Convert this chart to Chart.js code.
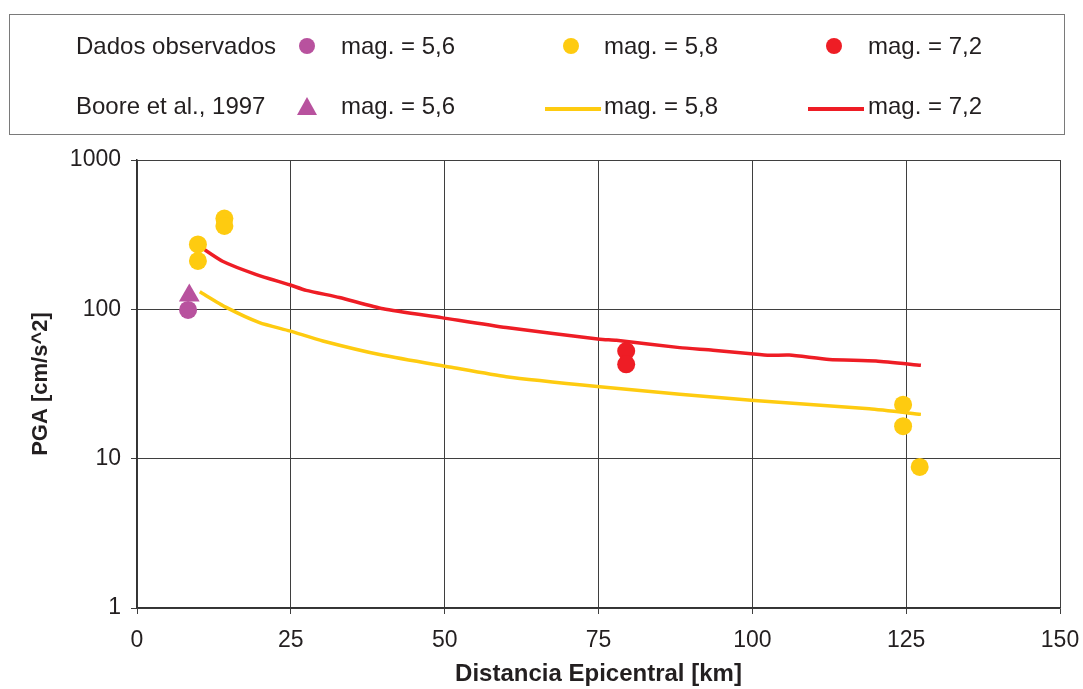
<!DOCTYPE html>
<html>
<head>
<meta charset="utf-8">
<script src="https://cdn.jsdelivr.net/npm/chart.js@4/dist/chart.umd.min.js"></script>
<style>
  html, body { margin: 0; padding: 0; background: #fff; }
  #wrap { position: relative; width: 1083px; height: 689px; font-family: "Liberation Sans", Arial, sans-serif; }
  #c { position: absolute; left: 0; top: 0; }
  #legend { position: absolute; left: 9px; top: 14px; width: 1056px; height: 121px; border: 1.5px solid #7a7a7a; box-sizing: border-box; }
  .lt { position: absolute; font-size: 24px; line-height: 24px; color: #231f20; transform: translateY(-50%); white-space: nowrap; }
  .dot { position: absolute; width: 16px; height: 16px; border-radius: 50%; transform: translate(-50%, -50%); }
  .tri { position: absolute; width: 0; height: 0; border-left: 10px solid transparent; border-right: 10px solid transparent; border-bottom: 18px solid #b8529e; transform: translate(-50%, -50%); }
  .ln { position: absolute; height: 4px; transform: translateY(-50%); }
</style>
</head>
<body>
<div id="wrap">
  <canvas id="c" width="1083" height="689"></canvas>
  <div id="legend"></div>
</div>
<script>
// ---- data ----
const legendRow1Label = "Dados observados";
const legendRow2Label = "Boore et al., 1997";
const seriesNames = ["mag. = 5,6", "mag. = 5,8", "mag. = 7,2"];
const seriesColors = ["#b8529e", "#fecb10", "#ee1d25"];

// observed data [distance km, PGA]
const obsMag56 = [[8.3, 99]];
const obsMag58 = [[9.9, 272], [9.9, 211], [14.2, 405], [14.2, 362], [124.5, 23], [124.5, 16.5], [127.2, 8.8]];
const obsMag72 = [[79.5, 52.6], [79.5, 42.8]];

// Boore et al. 1997 predictions
const booreMag56 = [[8.5, 124]];
const booreMag58 = [[10.2, 131], [14.5, 103], [19.9, 81.5], [24.8, 71.7], [30.2, 61.4], [40, 49.2], [50.8, 41.1], [60, 35.4], [75.2, 30.3], [88.2, 27], [99.8, 24.6], [119, 21.6], [127.4, 19.8]];
const booreMag72 = [[10.3, 262], [13.9, 210], [19.4, 171], [24.8, 146], [27.5, 134], [32.9, 120], [40, 101], [49.5, 88], [60, 75.5], [75.2, 63], [77.9, 62], [88.2, 55.4], [93.6, 53.3], [99.8, 50.4], [102.8, 49.2], [106, 49.4], [112.5, 46.2], [120.1, 45.1], [127.4, 42.2]];

const xTicks = [0, 25, 50, 75, 100, 125, 150];
const yTicks = [1, 10, 100, 1000];
const xTitle = "Distancia Epicentral [km]";
const yTitle = "PGA [cm/s^2]";

const toPts = arr => arr.map(p => ({x: p[0], y: p[1]}));

// ---- legend (HTML) ----
(function buildLegend() {
  const lg = document.getElementById('legend');
  const offX = 9, offY = 14;
  function add(html) { lg.insertAdjacentHTML('beforeend', html); }
  function text(t, x, y) { add(`<div class="lt" style="left:${x - offX}px;top:${y - offY}px">${t}</div>`); }
  const r1 = 45, r2 = 105;
  text(legendRow1Label, 75, r1);
  text(legendRow2Label, 75, r2);
  add(`<div class="dot" style="left:${306 - offX}px;top:${r1 - offY}px;background:${seriesColors[0]}"></div>`);
  text(seriesNames[0], 340, r1);
  add(`<div class="dot" style="left:${570 - offX}px;top:${r1 - offY}px;background:${seriesColors[1]}"></div>`);
  text(seriesNames[1], 603, r1);
  add(`<div class="dot" style="left:${833 - offX}px;top:${r1 - offY}px;background:${seriesColors[2]}"></div>`);
  text(seriesNames[2], 867, r1);
  add(`<div class="tri" style="left:${306 - offX}px;top:${r2 - offY}px"></div>`);
  text(seriesNames[0], 340, r2);
  add(`<div class="ln" style="left:${544 - offX}px;width:56px;top:${r2 + 3 - offY}px;background:${seriesColors[1]}"></div>`);
  text(seriesNames[1], 603, r2);
  add(`<div class="ln" style="left:${807 - offX}px;width:56px;top:${r2 + 3 - offY}px;background:${seriesColors[2]}"></div>`);
  text(seriesNames[2], 867, r2);
})();

// ---- chart ----
const FONT = "'Liberation Sans', Arial, sans-serif";
const gridColor = '#3f3f3f';

new Chart(document.getElementById('c'), {
  type: 'scatter',
  data: {
    datasets: [
      { label: 'obs 5.6', data: toPts(obsMag56), backgroundColor: seriesColors[0], borderColor: seriesColors[0], pointRadius: 9, pointStyle: 'circle', borderWidth: 0 },
      { label: 'obs 5.8', data: toPts(obsMag58), backgroundColor: seriesColors[1], borderColor: seriesColors[1], pointRadius: 9, pointStyle: 'circle', borderWidth: 0 },
      { label: 'obs 7.2', data: toPts(obsMag72), backgroundColor: seriesColors[2], borderColor: seriesColors[2], pointRadius: 9, pointStyle: 'circle', borderWidth: 0 },
      { label: 'Boore 5.6', data: toPts(booreMag56), backgroundColor: seriesColors[0], borderColor: seriesColors[0], pointRadius: 12, pointStyle: 'triangle', borderWidth: 0 },
      { label: 'Boore 5.8', data: toPts(booreMag58), showLine: true, borderColor: seriesColors[1], backgroundColor: seriesColors[1], borderWidth: 3.5, pointRadius: 0, tension: 0.2 },
      { label: 'Boore 7.2', data: toPts(booreMag72), showLine: true, borderColor: seriesColors[2], backgroundColor: seriesColors[2], borderWidth: 3.5, pointRadius: 0, tension: 0.2 }
    ]
  },
  options: {
    responsive: false,
    animation: false,
    devicePixelRatio: 1,
    layout: { padding: { top: 160, right: 23, left: 0, bottom: 0 } },
    plugins: { legend: { display: false }, tooltip: { enabled: false } },
    scales: {
      x: {
        type: 'linear', min: 0, max: 150,
        afterBuildTicks: s => { s.ticks = xTicks.map(v => ({value: v})); },
        afterFit: s => { s.height = 81; s.paddingLeft = 0; s.paddingRight = 0; },
        grid: { color: gridColor, lineWidth: 1, tickLength: 6, drawTicks: true },
        border: { color: '#333', width: 1.5 },
        ticks: { color: '#231f20', font: { family: FONT, size: 23 }, padding: 13, maxRotation: 0 },
        title: { display: true, text: xTitle, color: '#231f20', font: { family: FONT, size: 24, weight: 'bold' }, padding: { top: 0, bottom: 0 } }
      },
      y: {
        type: 'logarithmic', min: 1, max: 1000,
        afterBuildTicks: s => { s.ticks = yTicks.map(v => ({value: v})); },
        afterFit: s => { s.width = 137; s.paddingTop = 0; s.paddingBottom = 0; },
        grid: { color: gridColor, lineWidth: 1, tickLength: 6, drawTicks: true },
        border: { color: '#333', width: 1.5 },
        ticks: { color: '#231f20', font: { family: FONT, size: 23 }, padding: 10, callback: v => String(v) },
        title: { display: true, text: yTitle, color: '#231f20', font: { family: FONT, size: 22, weight: 'bold' }, padding: { top: 28, bottom: 0 } }
      }
    }
  }
});
</script>
</body>
</html>
